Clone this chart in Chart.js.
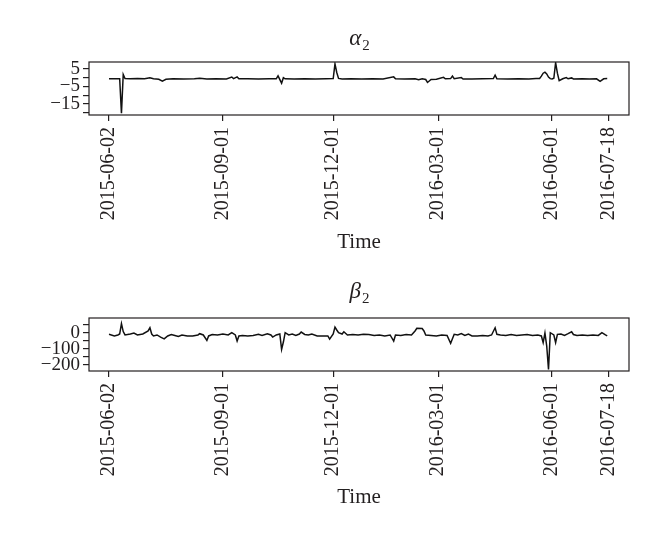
<!DOCTYPE html>
<html><head><meta charset="utf-8">
<script src="https://cdn.jsdelivr.net/npm/chart.js@4/dist/chart.umd.min.js"></script>
<style>
html,body{margin:0;padding:0;background:#fff;}
#wrap{position:relative;width:660px;height:543px;overflow:hidden;}
canvas{position:absolute;left:0;}
</style></head><body>
<div id="wrap">
<canvas id="c1" width="660" height="256" style="top:0px"></canvas>
<canvas id="c2" width="660" height="287" style="top:256px"></canvas>
</div>
<script>
// ---- data (x = trading-day index) ----
const dateTickIdx = [0, 64, 126, 185, 249, 281];
const dateTickLabels = ['2015-06-02','2015-09-01','2015-12-01','2016-03-01','2016-06-01','2016-07-18'];

const alphaIdx = [0,6,7,8,9,12,16,20,23,25,28,30,32,36,42,48,51,55,60,66,69,70,72,73,78,84,90,94,95,97,98,99,104,110,116,122,126,127,128,129,131,136,142,148,154,160,161,166,172,174,176,178,179,181,184,188,189,192,193,194,198,199,204,210,216,217,218,224,230,236,240,242,243,244,245,246,247,248,249,250,251,252,253,255,257,258,260,261,266,270,274,276,278,280];
const alphaVal = [-0.6,-0.6,-20.3,1.9,-0.4,-0.6,-0.5,-0.6,0,-0.6,-0.9,-1.9,-0.9,-0.6,-0.7,-0.6,-0.3,-0.7,-0.6,-0.7,0.4,-0.5,0.5,-0.6,-0.6,-0.7,-0.6,-0.6,1.1,-3.1,0,-0.6,-0.7,-0.6,-0.7,-0.6,-0.5,7.9,3.0,-0.4,-0.7,-0.6,-0.7,-0.6,-0.7,0.5,-0.6,-0.7,-0.6,-1.2,-0.6,-1.0,-2.7,-1.0,-0.8,0.2,-0.6,-0.5,0.9,-0.6,0.1,-0.7,-0.7,-0.6,-0.5,1.5,-0.6,-0.7,-0.6,-0.7,-0.5,-0.4,0.9,2.6,3.2,2.2,0.4,-0.5,-0.7,-0.3,8.6,2.6,-1.7,-0.6,0.1,-0.6,-0.1,-0.7,-0.6,-0.7,-0.6,-2.1,-0.6,-0.5];

const betaIdx = [0,3,5,6,7,8,9,12,14,16,19,22,23,24,25,27,29,31,33,35,37,39,41,44,47,50,51,53,55,56,58,61,64,67,69,71,72,73,75,78,81,84,86,89,91,92,94,96,97,98,99,101,103,105,107,108,110,112,114,117,120,123,124,126,127,128,129,131,132,134,137,140,143,146,149,152,155,158,160,161,164,167,170,172,173,176,177,178,181,184,187,190,192,194,196,198,200,202,204,207,210,213,215,217,218,220,223,226,229,232,235,238,241,243,244,245,246,247,248,250,251,252,254,256,258,260,261,263,266,269,272,275,277,279,280];
const betaVal = [-8,-18,-12,-6,59,9,-12,-6,0,-12,
  -6,13,33,-6,-18,-12,-25,-36,-18,-9,
  -15,-21,-12,-18,-18,-12,-4,-12,-46,-18,
  -9,-12,-6,-12,2,-12,-50,-18,-15,-18,
  -15,-8,-15,-4,-12,-25,-12,-6,-102,-56,
  2,-12,-6,-15,-6,6,-9,-12,-6,-18,
  -18,-18,-38,-6,37,19,2,-6,8,-12,
  -9,-12,-8,-9,-15,-12,-18,-12,-50,-12,
  -15,-9,-12,13,30,28,13,-12,-15,-18,
  -12,-15,-64,-8,-12,-3,-15,-6,-18,-18,
  -15,-18,-12,33,-8,-12,-15,-9,-15,-12,
  -9,-15,-12,-18,-60,0,-81,-228,2,-12,
  -60,-8,-6,-15,-4,8,-9,-15,-12,-15,
  -12,-15,2,-12,-18];

const alphaTickVals = [5, -5, -15];
const alphaTickLabels = ['5', '\u22125', '\u221215'];
const betaTickVals = [0, -100, -200];
const betaTickLabels = ['0', '\u2212100', '\u2212200'];
const panelSymbols = ['\u03b1', '\u03b2'];
const panelSubscript = '2';
const xAxisTitle = 'Time';

// ---- drawing ----
const INK = '#231f20';
const SERIF = '"Liberation Serif", "DejaVu Serif", serif';

const framePlugin = {
  id: 'frame',
  afterDraw(chart, args, opts) {
    const {ctx, chartArea: a} = chart;
    ctx.save();
    ctx.strokeStyle = INK;
    ctx.lineWidth = 1.2;
    ctx.strokeRect(a.left, a.top, a.right - a.left, a.bottom - a.top);
    const cx = (a.left + a.right) / 2;
    ctx.fillStyle = INK;
    ctx.textBaseline = 'middle';
    ctx.font = 'italic 23px ' + SERIF;
    const w1 = ctx.measureText(opts.symbol).width;
    ctx.font = '15px ' + SERIF;
    const w2 = ctx.measureText(panelSubscript).width;
    const x0 = cx - (w1 + w2) / 2;
    ctx.textAlign = 'left';
    ctx.font = 'italic 23px ' + SERIF;
    ctx.fillText(opts.symbol, x0, a.top - opts.symGap);
    ctx.font = '15px ' + SERIF;
    ctx.fillText(panelSubscript, x0 + w1 + 1, a.top - opts.symGap + 7);
    ctx.textAlign = 'center';
    ctx.font = '21px ' + SERIF;
    ctx.fillText(xAxisTitle, cx, a.bottom + opts.titleGap);
    ctx.restore();
  }
};

function makeChart(canvasId, H, idx, vals, ymin, ymax, step, tVals, tLabels, symbol, titleGap, symGap) {
  const pts = idx.map((x, i) => ({x: x, y: vals[i]}));
  return new Chart(document.getElementById(canvasId), {
    type: 'line',
    data: {datasets: [{data: pts, borderColor: '#111', borderWidth: 1.5, pointRadius: 0, tension: 0, fill: false}]},
    options: {
      responsive: false, animation: false, devicePixelRatio: 1,
      layout: {padding: {top: 62, right: 31, left: 0, bottom: 0}},
      plugins: {legend: {display: false}, tooltip: {enabled: false}, frame: {symbol: symbol, titleGap: titleGap, symGap: symGap}},
      scales: {
        x: {
          type: 'linear', min: -11.24, max: 292.24,
          afterBuildTicks(s) { s.ticks = dateTickIdx.map(v => ({value: v})); },
          afterFit(s) { s.height = H - 115; },
          grid: {display: true, drawOnChartArea: false, drawTicks: true, tickLength: 6, color: INK, lineWidth: 1.2},
          border: {display: false},
          ticks: {autoSkip: false, minRotation: 90, maxRotation: 90, padding: 6, color: INK,
                  font: {family: SERIF, size: 20},
                  callback: (v, i) => dateTickLabels[i]}
        },
        y: {
          min: ymin, max: ymax,
          afterFit(s) { s.width = 89; },
          grid: {display: true, drawOnChartArea: false, drawTicks: true, tickLength: 6, color: INK, lineWidth: 1.2},
          border: {display: false},
          ticks: {stepSize: step, includeBounds: false, autoSkip: false, padding: 3, color: INK,
                  font: {family: SERIF, size: 19, lineHeight: 1},
                  callback: (v) => { const k = tVals.indexOf(v); return k >= 0 ? tLabels[k] : ''; }}
        }
      }
    },
    plugins: [framePlugin]
  });
}

makeChart('c1', 256, alphaIdx, alphaVal, -21.3, 9, 5, alphaTickVals, alphaTickLabels, panelSymbols[0], 127, 23);
makeChart('c2', 287, betaIdx, betaVal, -237, 94, 50, betaTickVals, betaTickLabels, panelSymbols[1], 126, 26);
</script>
</body></html>
